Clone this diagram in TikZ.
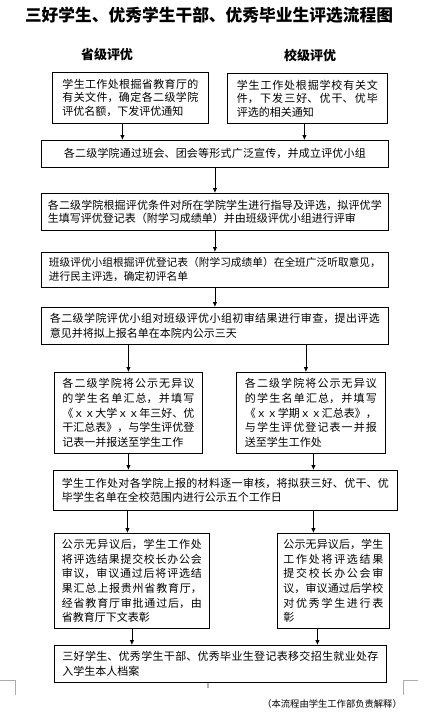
\documentclass[tikz,border=0pt]{standalone}
\usepackage{fontspec}
\usepackage{graphicx}
\newfontfamily\cjk{Noto Sans CJK SC}
\usetikzlibrary{arrows.meta}
\XeTeXlinebreaklocale "zh"
\XeTeXlinebreakskip=0pt plus 3pt
\hbadness=10000
\tolerance=10000
\begin{document}
\begin{tikzpicture}[x=1pt,y=-1pt,
  box/.style={draw, line width=0.8pt, anchor=north west, inner ysep=0pt, align=justify},
  body/.style={font=\cjk\fontsize{11}{#1}\selectfont},
  arr/.style={-{Latex[length=5pt,width=4.5pt]}, line width=0.8pt},
  pagemark/.style={draw=gray!65, line width=0.6pt},
  head/.style={font=\cjk\bfseries\fontsize{13}{13}\selectfont, inner sep=0pt}
]
\fill[white] (0,0) rectangle (425,721);
\useasboundingbox (0,0) rectangle (425,721);

\node[font=\cjk\bfseries\fontsize{19}{19}\selectfont, inner sep=0pt] (title) at (209,15) {\resizebox{368pt}{!}{三好学生、优秀学生干部、优秀毕业生评选流程图}};
\node[head] (h1head) at (107,55) {省级评优};
\node[head] (h2head) at (310,55) {校级评优};

\node[box, body=13.5, minimum width=156pt, minimum height=51pt, text width=136pt, inner xsep=10pt] (a1) at (52,72)
  {学生工作处根掘省教育厅的\linebreak 有关文件，确定各二级学院\linebreak 评优名额，下发评优通知};
\node[box, body=13.5, minimum width=160pt, minimum height=50pt, text width=141pt, inner xsep=9.5pt] (a2) at (227,73)
  {学生工作处根掘学校有关文\linebreak 件，下发三好、优干、优毕\linebreak 评选的相关通知};

\node[box, body=14, minimum width=347pt, minimum height=27pt, text width=302pt, inner xsep=22.5pt] (b) at (41,140)
  {\parfillskip=0pt 各二级学院通过班会、团会等形式广泛宣传，并成立评优小组\par};

\node[box, body=12.5, minimum width=347pt, minimum height=37pt, text width=334pt, inner xsep=6.5pt] (c) at (41,193)
  {各二级学院根掘评优条件对所在学院学生进行指导及评选，拟评优学\linebreak 生填写评优登记表（附学习成绩单）并由班级评优小组进行评审};

\node[box, font=\cjk\fontsize{10.7}{14}\selectfont, minimum width=347pt, minimum height=35pt, text width=332pt, inner xsep=7.5pt] (d) at (41,252)
  {班级评优小组根掘评优登记表（附学习成绩单）在全班广泛听取意见，\linebreak 进行民主评选，确定初评名单};

\node[box, body=14.3, minimum width=347pt, minimum height=37pt, text width=330pt, inner xsep=8.5pt] (e) at (41,307)
  {各二级学院评优小组对班级评优小组初审结果进行审查，提出评选\linebreak 意见并将拟上报名单在本院内公示三天};

\node[box, body=14.8, minimum width=148pt, minimum height=81pt, text width=132pt, inner xsep=8pt] (f1) at (54,372)
  {各二级学院将公示无异议\linebreak 的学生名单汇总，并填写\linebreak 《ｘｘ大学ｘｘ年三好、优\linebreak 干汇总表》，与学生评优登\linebreak 记表一并报送至学生工作};
\node[box, body=14.8, minimum width=149pt, minimum height=81pt, text width=132pt, inner xsep=8.5pt] (f2) at (236,372)
  {各二级学院将公示无异议\linebreak 的学生名单汇总，并填写\linebreak 《ｘｘ学期ｘｘ汇总表》，\linebreak 与学生评优登记表一并报\linebreak 送至学生工作处};

\node[box, body=14, minimum width=344pt, minimum height=40pt, text width=327pt, inner xsep=8.5pt] (g) at (53,470)
  {学生工作处对各学院上报的材料逐一审核，将拟获三好、优干、优\linebreak 毕学生名单在全校范围内进行公示五个工作日};

\node[box, body=14.7, minimum width=155pt, minimum height=95pt, text width=140pt, inner xsep=7.5pt] (h1) at (54,533)
  {公示无异议后，学生工作处\linebreak 将评选结果提交校长办公会\linebreak 审议，审议通过后将评选结\linebreak 果汇总上报贵州省教育厅，\linebreak 经省教育厅审批通过后，由\linebreak 省教育厅下文表彰};
\node[box, body=14.7, minimum width=112pt, minimum height=95pt, text width=100pt, inner xsep=6pt] (h2) at (277,533)
  {公示无异议后，学生\linebreak 工作处将评选结果\linebreak 提交校长办公会审\linebreak 议，审议通过后学校\linebreak 对优秀学生进行表\linebreak 彰};

\node[box, body=15, minimum width=332pt, minimum height=37pt, text width=316pt, inner xsep=8pt] (i) at (54,645)
  {三好学生、优秀学生干部、优秀毕业生登记表移交招生就业处存\linebreak 入学生本人档案};

\node[font=\cjk\fontsize{9.3}{9.3}\selectfont, anchor=east, inner sep=0pt] (note) at (402,704) {（本流程由学生工作部负责解释）};

\draw[arr] ([xshift=-8pt]a1.south) -- ([xshift=-8pt]a1.south |- b.north);
\draw[arr] ([xshift=-3pt]a2.south) -- ([xshift=-3pt]a2.south |- b.north);
\draw[arr] (b.south) -- (c.north);
\draw[arr] (c.south) -- (d.north);
\draw[arr] (d.south) -- (e.north);
\draw[arr] (f1.north |- e.south) -- (f1.north);
\draw[arr] ([xshift=-5pt]f2.north |- e.south) -- ([xshift=-5pt]f2.north);
\draw[arr] (f1.south) -- (f1.south |- g.north);
\draw[arr] ([xshift=2.5pt]f2.south) -- ([xshift=2.5pt]f2.south |- g.north);
\draw[arr] ([xshift=-4.5pt]h1.north |- g.south) -- ([xshift=-4.5pt]h1.north);
\draw[arr] ([xshift=-20pt]h2.north |- g.south) -- ([xshift=-20pt]h2.north);
\draw[arr] (h1.south) -- (h1.south |- i.north);
\draw[arr] ([xshift=-16pt]h2.south) -- ([xshift=-16pt]h2.south |- i.north);

\draw[pagemark] (0,680) -- (15,680) -- (15,695);
\draw[pagemark] (418,680) -- (403,680) -- (403,695);
\draw[draw=gray!60, line width=1.2pt] (208,683) -- (208,688);
\end{tikzpicture}
\end{document}
